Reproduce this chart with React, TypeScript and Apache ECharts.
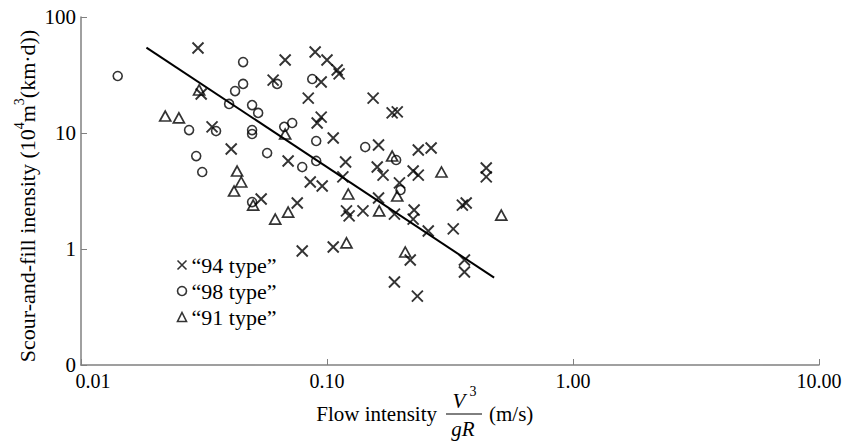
import React, { useEffect, useRef } from 'react';
import * as echarts from 'echarts';

const FONT = 'Liberation Serif, Times New Roman, serif';

// "94 type" points [flow intensity, scour-and-fill intensity]
const type94: [number, number][] = [
  [0.0299, 54.0], [0.0308, 21.7], [0.0676, 42.6], [0.0895, 49.9], [0.100, 42.6],
  [0.110, 34.9], [0.112, 32.3], [0.0604, 28.6], [0.0947, 27.5], [0.0341, 11.3],
  [0.0839, 20.0], [0.154, 20.0], [0.184, 14.9], [0.193, 15.2], [0.0947, 13.7],
  [0.0912, 12.2], [0.106, 9.06], [0.162, 7.88], [0.235, 7.13], [0.265, 7.42],
  [0.0408, 7.28], [0.0695, 5.74], [0.119, 5.62], [0.160, 5.09], [0.169, 4.34],
  [0.224, 4.70], [0.235, 4.34], [0.444, 4.99], [0.444, 4.18], [0.0855, 3.78],
  [0.0956, 3.49], [0.116, 4.18], [0.0757, 2.49], [0.0540, 2.70], [0.197, 3.71],
  [0.162, 2.75], [0.140, 2.13], [0.188, 2.00], [0.226, 2.17], [0.123, 1.93],
  [0.120, 2.13], [0.224, 1.81], [0.355, 2.39], [0.368, 2.49], [0.258, 1.43],
  [0.326, 1.49], [0.0793, 0.961], [0.106, 1.04], [0.218, 0.804], [0.362, 0.804],
  [0.362, 0.633], [0.188, 0.519], [0.233, 0.393],
];

// "98 type" points
const type98: [number, number][] = [
  [0.0141, 31.0], [0.0275, 10.6], [0.0354, 10.4], [0.0294, 6.33], [0.0311, 4.61],
  [0.0400, 17.8], [0.0423, 23.0], [0.0456, 26.5], [0.0456, 40.9], [0.0496, 17.4],
  [0.0525, 14.9], [0.0496, 10.6], [0.0496, 9.80], [0.0571, 6.72], [0.0670, 11.3],
  [0.0722, 12.2], [0.0793, 5.09], [0.0871, 29.2], [0.0904, 8.53], [0.0904, 5.74],
  [0.143, 7.57], [0.191, 5.85], [0.199, 3.23], [0.0496, 2.54], [0.0627, 26.5],
];

// "91 type" points
const type91: [number, number][] = [
  [0.0302, 23.5], [0.0220, 14.0], [0.0250, 13.5], [0.0676, 9.80], [0.0431, 4.70],
  [0.0448, 3.78], [0.0419, 3.16], [0.0501, 2.39], [0.0616, 1.81], [0.0695, 2.08],
  [0.122, 2.98], [0.184, 6.33], [0.193, 2.86], [0.163, 2.13], [0.292, 4.61],
  [0.511, 1.96], [0.120, 1.13], [0.208, 0.942],
];

// fitted trend line end points
const fitLine: [number, number][] = [
  [0.01845, 54.4],
  [0.478, 0.566],
];

const seriesNames = ['“94 type”', '“98 type”', '“91 type”'];
const yTicks = [0.1, 1, 10, 100];
const yTickLabels = ['0', '1', '10', '100'];

const CROSS = 'path://M0,0L10,10M0,10L10,0';

export default function App() {
  const ref = useRef<HTMLDivElement>(null);
  useEffect(() => {
    document.body.style.margin = '0';
    const chart = echarts.init(ref.current!, null, { renderer: 'svg' });
    const axisColor = '#808080';
    chart.setOption({
      animation: false,
      backgroundColor: '#fff',
      grid: {
        left: 81,
        right: 29,
        top: 17,
        bottom: 80,
        containLabel: false,
        outerBoundsMode: 'none',
      },
      xAxis: {
        type: 'log',
        logBase: 10,
        min: 0.01,
        max: 10,
        axisLine: { show: true, lineStyle: { color: axisColor, width: 1.5 } },
        axisTick: { show: true, inside: true, length: 6, lineStyle: { color: axisColor, width: 1 } },
        minorTick: { show: false },
        splitLine: { show: false },
        axisLabel: {
          color: '#000',
          fontSize: 20,
          fontFamily: FONT,
          margin: 6,
          formatter: (v: number) =>
            v < 0.05 ? '{m|' + v.toFixed(2) + '}' : v.toFixed(2),
          rich: {
            m: { fontSize: 20, fontFamily: FONT, color: '#000', padding: [0, 0, 0, 24] },
          },
        },
      },
      yAxis: {
        type: 'log',
        logBase: 10,
        min: 0.1,
        max: 100,
        axisLine: { show: true, lineStyle: { color: axisColor, width: 1.5 } },
        axisTick: { show: true, inside: true, length: 6, lineStyle: { color: axisColor, width: 1 } },
        minorTick: { show: false },
        splitLine: { show: false },
        axisLabel: {
          color: '#000',
          fontSize: 21,
          fontFamily: FONT,
          margin: 5,
          formatter: (v: number) => {
            let best = 0;
            yTicks.forEach((t, i) => {
              if (Math.abs(Math.log10(t) - Math.log10(v)) < Math.abs(Math.log10(yTicks[best]) - Math.log10(v))) best = i;
            });
            return yTickLabels[best];
          },
        },
      },
      legend: {
        data: seriesNames,
        orient: 'vertical',
        left: 170,
        top: 249,
        itemWidth: 9,
        itemHeight: 9,
        itemGap: 4,
        itemStyle: { borderWidth: 1.6 },
        textStyle: { color: '#000', fontSize: 22, fontFamily: FONT, lineHeight: 22 },
      },
      series: [
        {
          name: seriesNames[0],
          type: 'scatter',
          data: type94,
          symbol: CROSS,
          symbolSize: 11,
          itemStyle: { color: 'none', borderColor: '#000', borderWidth: 1.9 },
        },
        {
          name: seriesNames[1],
          type: 'scatter',
          data: type98,
          symbol: 'circle',
          symbolSize: 9,
          itemStyle: { color: 'rgba(255,255,255,0)', borderColor: '#000', borderWidth: 1.6 },
        },
        {
          name: seriesNames[2],
          type: 'scatter',
          data: type91,
          symbol: 'triangle',
          symbolSize: [11, 10],
          itemStyle: { color: 'rgba(255,255,255,0)', borderColor: '#000', borderWidth: 1.7 },
        },
        {
          name: 'fit',
          type: 'line',
          data: fitLine,
          symbol: 'none',
          lineStyle: { color: '#000', width: 2 },
          silent: true,
        },
      ],
      graphic: [
        {
          type: 'text',
          x: 27,
          y: 196,
          rotation: Math.PI / 2,
          style: {
            text: '{a|Scour-and-fill inensity (10}{s|4}{a|m}{s|3}{a|(km·d))}',
            align: 'center',
            verticalAlign: 'middle',
            fill: '#000',
            rich: {
              a: { fontSize: 22, fontFamily: FONT, lineHeight: 30, fill: '#000' },
              s: { fontSize: 14, fontFamily: FONT, lineHeight: 15, verticalAlign: 'top', fill: '#000' },
            },
          },
        },
        {
          type: 'text',
          x: 437,
          y: 414,
          style: { text: 'Flow intensity', fontSize: 21, fontFamily: FONT, fill: '#000', align: 'right', verticalAlign: 'middle' },
        },
        {
          type: 'text',
          x: 459,
          y: 401,
          style: { text: 'V', fontSize: 21, fontStyle: 'italic', fontFamily: FONT, fill: '#000', align: 'center', verticalAlign: 'middle' },
        },
        {
          type: 'text',
          x: 473,
          y: 391,
          style: { text: '3', fontSize: 14, fontFamily: FONT, fill: '#000', align: 'center', verticalAlign: 'middle' },
        },
        {
          type: 'line',
          shape: { x1: 446, y1: 414, x2: 482, y2: 414 },
          style: { stroke: '#000', lineWidth: 1 },
        },
        {
          type: 'text',
          x: 463,
          y: 429,
          style: { text: 'gR', fontSize: 21, fontStyle: 'italic', fontFamily: FONT, fill: '#000', align: 'center', verticalAlign: 'middle' },
        },
        {
          type: 'text',
          x: 489,
          y: 414,
          style: { text: '(m/s)', fontSize: 21, fontFamily: FONT, fill: '#000', align: 'left', verticalAlign: 'middle' },
        },
      ],
    });
    return () => chart.dispose();
  }, []);
  return <div ref={ref} style={{ width: 848, height: 445 }} />;
}
